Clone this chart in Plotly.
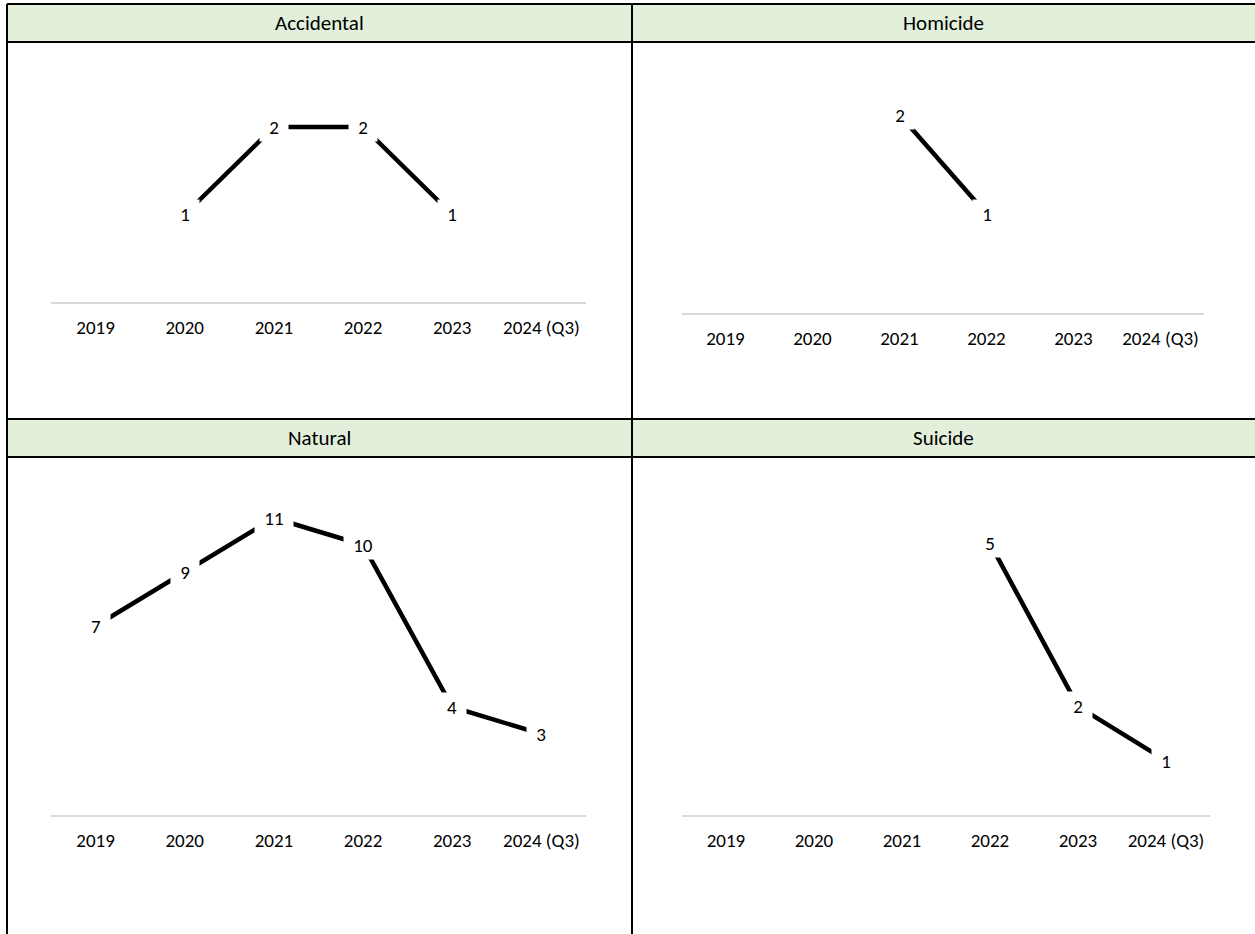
import plotly.graph_objects as go

W, H = 1255, 934

categories = ["2019", "2020", "2021", "2022", "2023", "2024 (Q3)"]
accidental = [None, 1, 2, 2, 1, None]
homicide = [None, None, 2, 1, None, None]
natural = [7, 9, 11, 10, 4, 3]
suicide = [None, None, None, 5, 2, 1]

titles = ["Accidental", "Homicide", "Natural", "Suicide"]
series = [accidental, homicide, natural, suicide]

FONT = "Calibri, Carlito, Lato, sans-serif"
HEADER_FILL = "#E2EFDA"

# pixel boxes for each panel: (left, right, axis_y, top, y_max)
panels = [
    (51, 586, 302, 92, 2.4),
    (682, 1204, 313, 75, 2.4),
    (51, 586, 815, 491, 12),
    (682, 1210, 815, 489, 6),
]


def px(x):
    return x / W


def py(y):
    return 1 - y / H


fig = go.Figure()
annotations = []

for i, (vals, (l, r, ay, top, ymax)) in enumerate(zip(series, panels)):
    n = i + 1
    xa = "x" if n == 1 else f"x{n}"
    ya = "y" if n == 1 else f"y{n}"
    fig.add_trace(go.Scatter(
        x=categories, y=vals, mode="lines",
        line=dict(color="black", width=4.5),
        connectgaps=False, hoverinfo="skip", showlegend=False,
        xaxis=xa, yaxis=ya,
    ))
    # value labels sit on the points with a white box that breaks the line
    for k, v in enumerate(vals):
        if v is None:
            continue
        t = str(v)
        annotations.append(dict(
            x=k, y=v, xref=xa, yref=ya, text=t, showarrow=False,
            font=dict(family=FONT, size=19, color="black"),
            bgcolor="white", width=18 + 10 * len(t), height=28, borderpad=0,
            xanchor="center", yanchor="middle",
        ))
    key = "" if n == 1 else str(n)
    fig.layout["xaxis" + key] = dict(
        domain=[px(l), px(r)], anchor=ya, type="category",
        range=[-0.5, 5.5], showgrid=False, zeroline=False,
        showline=True, linecolor="#D9D9D9", linewidth=2,
        ticks="outside", ticklen=7, tickcolor="rgba(0,0,0,0)",
        tickfont=dict(family=FONT, size=19, color="black"),
        fixedrange=True,
    )
    fig.layout["yaxis" + key] = dict(
        domain=[py(ay), py(top)], anchor=xa, range=[0, ymax],
        visible=False, fixedrange=True,
    )

shapes = []
# header bands
for y0, y1 in [(4, 42), (419, 457)]:
    shapes.append(dict(type="rect", xref="paper", yref="paper",
                       x0=px(7), x1=1, y0=py(y1), y1=py(y0),
                       fillcolor=HEADER_FILL, line=dict(width=0), layer="below"))
# table grid lines
for y in [4, 42, 419, 457]:
    shapes.append(dict(type="line", xref="paper", yref="paper",
                       x0=px(7), x1=1, y0=py(y), y1=py(y),
                       line=dict(color="black", width=2)))
for x in [7, 632]:
    shapes.append(dict(type="line", xref="paper", yref="paper",
                       x0=px(x), x1=px(x), y0=0, y1=py(4),
                       line=dict(color="black", width=2)))

# header titles
for t, (cx, cy) in zip(titles, [(319.5, 23), (943.5, 23), (319.5, 438), (943.5, 438)]):
    annotations.append(dict(
        x=px(cx), y=py(cy), xref="paper", yref="paper", text=t,
        showarrow=False, xanchor="center", yanchor="middle",
        font=dict(family=FONT, size=21, color="black"),
    ))

fig.update_layout(
    width=W, height=H, margin=dict(l=0, r=0, t=0, b=0),
    paper_bgcolor="white", plot_bgcolor="rgba(0,0,0,0)",
    shapes=shapes, annotations=annotations, showlegend=False,
)

fig.write_html("out.html", config={"displayModeBar": False})
